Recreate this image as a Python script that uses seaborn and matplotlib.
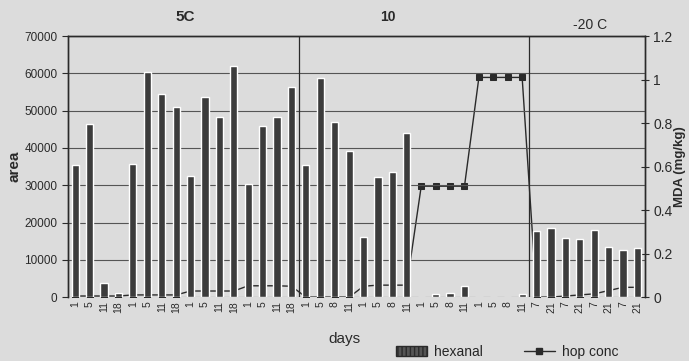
import pandas as pd
import numpy as np
import seaborn as sns
import matplotlib.pyplot as plt
from matplotlib.patches import Patch
from matplotlib.lines import Line2D

# data
day_labels = ['1', '5', '11', '18'] * 4 + ['1', '5', '8', '11'] * 4 + ['7', '21'] * 4
hexanal = [35500, 46500, 3650, 1100, 35600, 60400, 54600, 51000,
           32400, 53800, 48400, 61900, 30300, 46000, 48400, 56400,
           35500, 58800, 47000, 39300, 16100, 32100, 33600, 44000,
           0, 900, 1100, 3100, 0, 0, 0, 800,
           17800, 18600, 15800, 15600, 18000, 13400, 12500, 13300]
mda = [0.005, 0.005, 0.005, 0.005, 0.01, 0.01, 0.01, 0.01,
       0.028, 0.028, 0.028, 0.028, 0.052, 0.052, 0.052, 0.05,
       0.0, 0.0, 0.0, 0.0, 0.05, 0.055, 0.055, 0.055,
       0.51, 0.51, 0.51, 0.51, 1.01, 1.01, 1.01, 1.01,
       0.0, 0.0, 0.005, 0.01, 0.015, 0.03, 0.045, 0.045]
sections = ['5C', '10', '-20 C']
left_ticks = [0, 10000, 20000, 30000, 40000, 50000, 60000, 70000]
right_ticks = [0, 0.2, 0.4, 0.6, 0.8, 1.0, 1.2]
right_labels = ['0', '0.2', '0.4', '0.6', '0.8', '1', '1.2']

df = pd.DataFrame({'pos': range(len(hexanal)), 'hexanal': hexanal, 'mda': mda})

sns.set_style('white')
plt.rcParams['font.family'] = ['Liberation Sans', 'DejaVu Sans']
bg = '#dcdcdc'
ink = '#2a2a2a'

fig = plt.figure(figsize=(6.89, 3.61), dpi=100, facecolor=bg)
ax = fig.add_axes([0.0987, 0.177, 0.837, 0.723])
ax2 = ax.twinx()

# bars (hexanal, left axis)
sns.barplot(data=df, x='pos', y='hexanal', color='#3c3c3c', width=0.5,
            saturation=1, ax=ax, zorder=3)

# line (MDA, right axis) - drawn behind the bars
sns.lineplot(data=df, x='pos', y='mda', ax=ax2, color=ink, linewidth=1,
             marker='s', markersize=4.5, markeredgecolor=ink)
ax2.set_facecolor(bg)
ax.set_zorder(ax2.get_zorder() + 1)
ax.patch.set_visible(False)

ax.set_xlim(-0.5, len(hexanal) - 0.5)
ax.set_ylim(0, 70000)
ax2.set_ylim(0, 1.2)

ax.set_yticks(left_ticks)
ax.set_yticklabels([str(t) for t in left_ticks], fontsize=8.5, color=ink)
ax.yaxis.grid(True, color='#555555', linewidth=0.8, zorder=0)
ax.set_xticks(range(len(day_labels)))
ax.set_xticklabels(day_labels, rotation=90, fontsize=7.5, color=ink)
ax.tick_params(axis='y', direction='out', length=4, color=ink)
ax.tick_params(axis='x', length=0, pad=3)

ax2.set_yticks(right_ticks)
ax2.set_yticklabels(right_labels, fontsize=10, color=ink)
ax2.tick_params(axis='y', direction='inout', length=6, color=ink, pad=3)

# section separators
for b in [15.5, 31.5]:
    ax.axvline(b, color=ink, linewidth=0.9, zorder=4)

for a in (ax, ax2):
    for s in ['top', 'left', 'right']:
        a.spines[s].set_color(ink)
        a.spines[s].set_linewidth(1)
    a.spines['bottom'].set_visible(False)

ax.set_xlabel('')
ax.set_ylabel('area', fontsize=11, fontweight='bold', color=ink, labelpad=2)
ax2.set_xlabel('')
ax2.set_ylabel('MDA (mg/kg)', fontsize=9.5, fontweight='bold', color=ink, labelpad=1)

fig.text(0.2685, 0.953, sections[0], ha='center', va='center', fontsize=11, fontweight='bold', color=ink)
fig.text(0.563, 0.953, sections[1], ha='center', va='center', fontsize=10, fontweight='bold', color=ink)
fig.text(0.856, 0.931, sections[2], ha='center', va='center', fontsize=10, color=ink)
fig.text(0.50, 0.062, 'days', ha='center', va='center', fontsize=11, color=ink)

handles = [Patch(facecolor='#555555', edgecolor=ink, hatch='||||', label='hexanal'),
           Line2D([0], [0], color=ink, marker='s', markersize=4.5, linewidth=1, label='hop conc')]
fig.legend(handles=handles, loc='center', bbox_to_anchor=(0.736, 0.025), ncol=2,
           frameon=False, fontsize=10, columnspacing=3, handlelength=2.2,
           borderpad=0.1, handletextpad=0.5)

plt.savefig('out.png', dpi=100, facecolor=bg)
